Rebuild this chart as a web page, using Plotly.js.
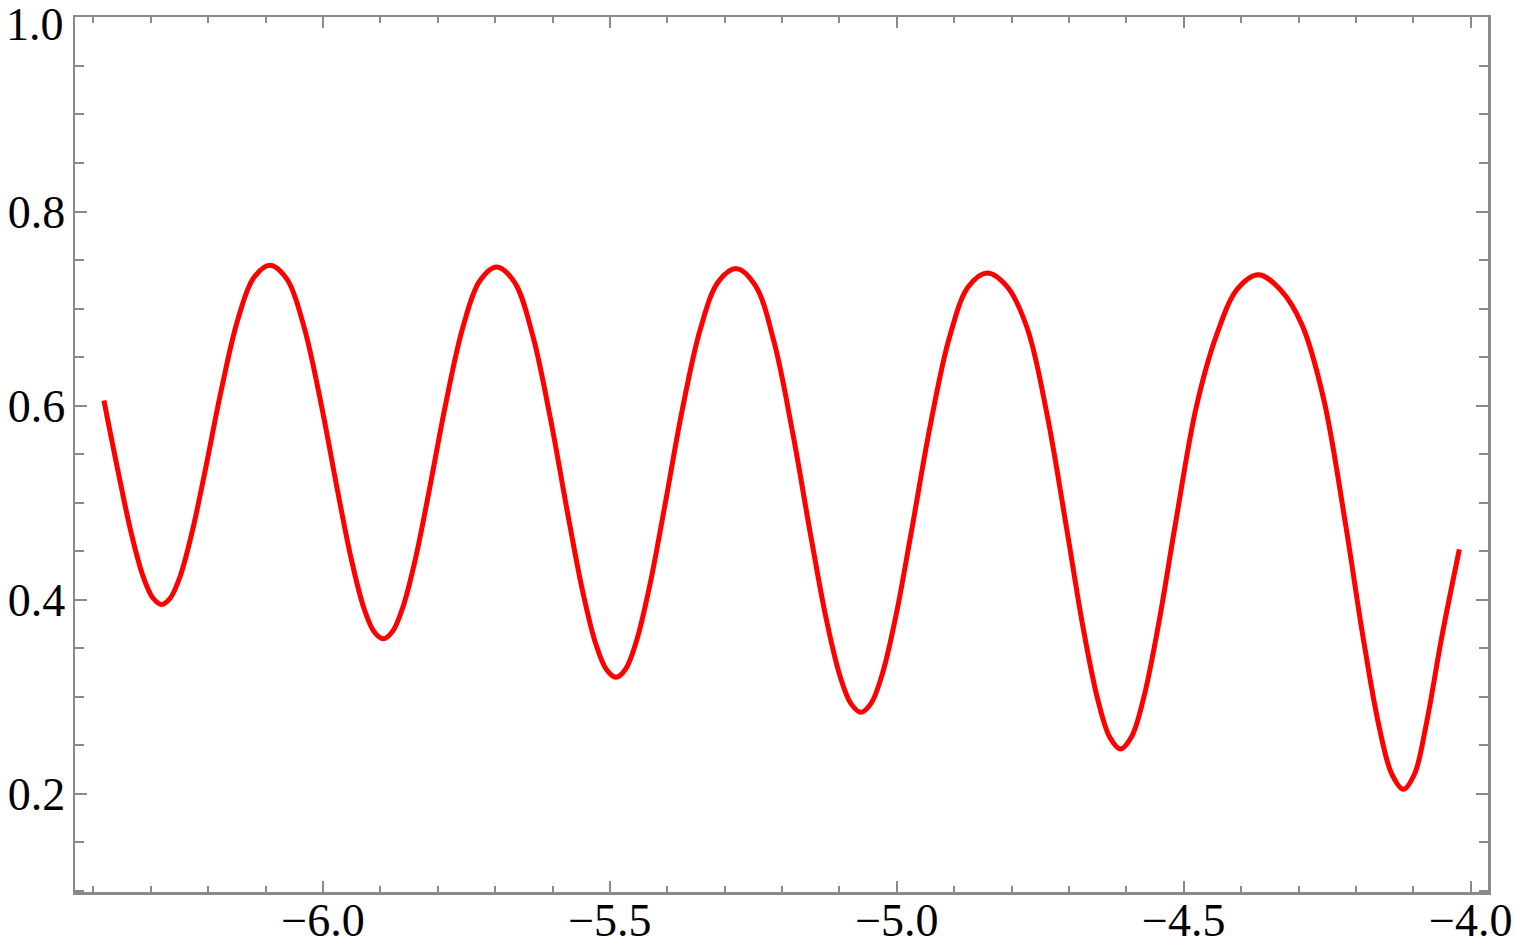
<!DOCTYPE html>
<html>
<head>
<meta charset="utf-8">
<script src="https://cdn.plot.ly/plotly-3.0.1.min.js"></script>
<style>
  html, body { margin: 0; padding: 0; background: #ffffff; }
  #chart { width: 1514px; height: 945px; }
</style>
</head>
<body>
<div id="chart"></div>
<script>
// Curve samples (x, y in data units)
const xValues = [
  -6.3816, -6.3571, -6.3342, -6.3133, -6.2962, -6.2811,
  -6.2659, -6.2490, -6.2283, -6.2056, -6.1772, -6.1490, -6.1206, -6.0924,
  -6.0627, -6.0331, -6.0035, -5.9739, -5.9502, -5.9286, -5.9108, -5.8949,
  -5.8791, -5.8613, -5.8395, -5.8158, -5.7862, -5.7566, -5.7269, -5.6973,
  -5.6661, -5.6349, -5.6037, -5.5725, -5.5476, -5.5248, -5.5060, -5.4894,
  -5.4725, -5.4537, -5.4305, -5.4052, -5.3737, -5.3422, -5.3106, -5.2791,
  -5.2467, -5.2141, -5.1817, -5.1491, -5.1231, -5.0992, -5.0797, -5.0625,
  -5.0449, -5.0250, -5.0008, -4.9745, -4.9414, -4.9084, -4.8753, -4.8424,
  -4.8075, -4.7727, -4.7380, -4.7032, -4.6753, -4.6497, -4.6289, -4.6103,
  -4.5911, -4.5695, -4.5430, -4.5143, -4.4782, -4.4421, -4.4062, -4.3701,
  -4.3321, -4.2943, -4.2564, -4.2185, -4.1882, -4.1603, -4.1377, -4.1175,
  -4.0980, -4.0779, -4.0500, -4.0199
];
const yValues = [
  0.6051, 0.5324, 0.4690, 0.4238, 0.4016, 0.3950,
  0.4016, 0.4237, 0.4687, 0.5318, 0.6157, 0.6871, 0.7316, 0.7447,
  0.7303, 0.6813, 0.6026, 0.5102, 0.4406, 0.3911, 0.3668, 0.3595,
  0.3667, 0.3910, 0.4402, 0.5094, 0.6014, 0.6797, 0.7284, 0.7429,
  0.7270, 0.6732, 0.5868, 0.4852, 0.4089, 0.3546, 0.3278, 0.3198,
  0.3284, 0.3572, 0.4146, 0.4937, 0.5961, 0.6792, 0.7280, 0.7411,
  0.7239, 0.6658, 0.5724, 0.4626, 0.3801, 0.3213, 0.2924, 0.2837,
  0.2929, 0.3239, 0.3856, 0.4706, 0.5807, 0.6701, 0.7226, 0.7367,
  0.7223, 0.6794, 0.5898, 0.4697, 0.3704, 0.2963, 0.2579, 0.2460,
  0.2586, 0.2997, 0.3778, 0.4792, 0.5987, 0.6742, 0.7205, 0.7349,
  0.7195, 0.6834, 0.6069, 0.4787, 0.3631, 0.2705, 0.2202, 0.2044,
  0.2202, 0.2705, 0.3631, 0.4517
];

// Axis settings
const xRange = [-6.432, -3.970];
const yRange = [0.0985, 1.0005];
const xTickVals = [-6.0, -5.5, -5.0, -4.5, -4.0];
const yTickVals = [0.2, 0.4, 0.6, 0.8, 1.0];
const yTickText = ['0.2', '0.4', '0.6', '0.8', ''];
const topLabel = '1.0';

const frameColor = '#8a8a8a';
const labelFont = { family: '"Liberation Serif", "Times New Roman", serif', size: 46, color: '#000000' };

const trace = {
  x: xValues,
  y: yValues,
  type: 'scatter',
  mode: 'lines',
  line: { color: '#ff0000', width: 5, shape: 'spline', smoothing: 1 },
  hoverinfo: 'skip'
};

const layout = {
  width: 1514,
  height: 945,
  margin: { l: 75, r: 26, t: 17, b: 53, pad: 0 },
  paper_bgcolor: '#ffffff',
  plot_bgcolor: '#ffffff',
  showlegend: false,
  xaxis: {
    range: xRange,
    showgrid: false,
    zeroline: false,
    showline: true,
    linecolor: frameColor,
    linewidth: 2.5,
    mirror: 'allticks',
    ticks: 'inside',
    ticklen: 11,
    tickwidth: 2,
    tickcolor: frameColor,
    tickmode: 'array',
    tickvals: xTickVals,
    ticktext: xTickVals.map(v => (v < 0 ? '\u2212' : '') + Math.abs(v).toFixed(1)),
    tickfont: labelFont,
    ticklabelstandoff: -14,
    ticklabeloverflow: 'allow',
    minor: { ticks: 'inside', dtick: 0.1, tick0: -6.0, ticklen: 6, tickwidth: 2, tickcolor: frameColor, showgrid: false }
  },
  yaxis: {
    range: yRange,
    showgrid: false,
    zeroline: false,
    showline: true,
    linecolor: frameColor,
    linewidth: 2.5,
    mirror: 'allticks',
    ticks: 'inside',
    ticklen: 12,
    tickwidth: 2,
    tickcolor: frameColor,
    tickmode: 'array',
    tickvals: yTickVals,
    ticktext: yTickText,
    tickfont: labelFont,
    ticklabelstandoff: -2,
    ticklabeloverflow: 'allow',
    minor: { ticks: 'inside', dtick: 0.05, tick0: 0.0, ticklen: 9, tickwidth: 2, tickcolor: frameColor, showgrid: false }
  },
  annotations: [{
    text: topLabel,
    xref: 'paper', yref: 'y',
    x: 0, y: 1.0,
    xanchor: 'right', yanchor: 'middle',
    xshift: -10, yshift: -7,
    showarrow: false,
    font: labelFont,
    borderpad: 0
  }]
};

Plotly.newPlot('chart', [trace], layout, { displayModeBar: false, staticPlot: true });
</script>
</body>
</html>
